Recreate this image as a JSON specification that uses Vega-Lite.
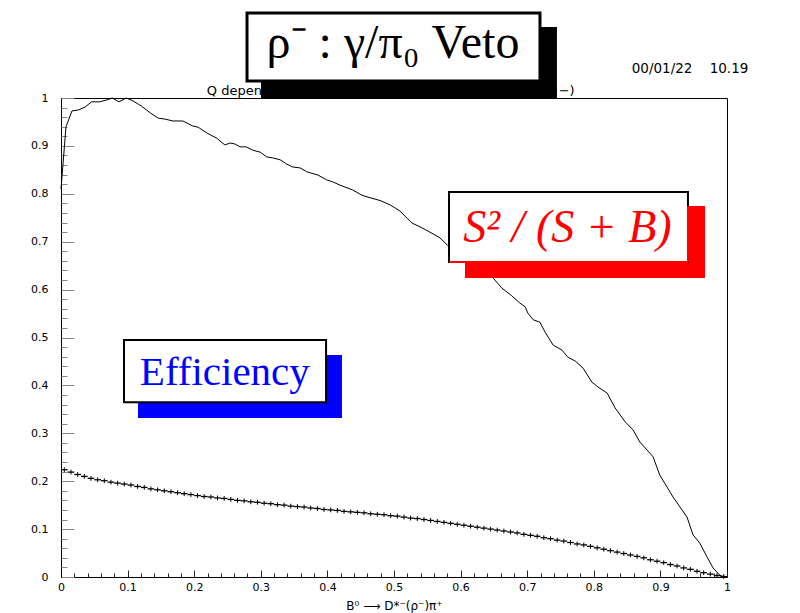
{
  "$schema": "https://vega.github.io/schema/vega-lite/v6.json",
  "width": 666,
  "height": 479,
  "autosize": "none",
  "padding": {"left": 61, "top": 98, "right": 73, "bottom": 36},
  "background": "white",
  "config": {
    "view": {"stroke": "#000", "strokeWidth": 1},
    "axis": {"grid": false, "domainColor": "#000", "labelColor": "#000", "labelFont": "DejaVu Sans", "labelFontSize": 11}
  },
  "datasets": {
    "ratio": [
      {"q": 0.0, "v": 0.81}, {"q": 0.0075, "v": 0.94}, {"q": 0.0165, "v": 0.973}, {"q": 0.026, "v": 0.975},
      {"q": 0.036, "v": 0.981}, {"q": 0.046, "v": 0.992}, {"q": 0.058, "v": 0.992}, {"q": 0.069, "v": 0.996},
      {"q": 0.077, "v": 1.0}, {"q": 0.087, "v": 0.992}, {"q": 0.098, "v": 1.0}, {"q": 0.108, "v": 0.994},
      {"q": 0.121, "v": 0.983}, {"q": 0.134, "v": 0.969}, {"q": 0.146, "v": 0.958}, {"q": 0.156, "v": 0.956},
      {"q": 0.168, "v": 0.952}, {"q": 0.183, "v": 0.952}, {"q": 0.197, "v": 0.942}, {"q": 0.206, "v": 0.939},
      {"q": 0.219, "v": 0.927}, {"q": 0.234, "v": 0.916}, {"q": 0.246, "v": 0.902}, {"q": 0.254, "v": 0.906},
      {"q": 0.261, "v": 0.904}, {"q": 0.269, "v": 0.898}, {"q": 0.278, "v": 0.898}, {"q": 0.288, "v": 0.891},
      {"q": 0.299, "v": 0.887}, {"q": 0.309, "v": 0.877}, {"q": 0.318, "v": 0.875}, {"q": 0.329, "v": 0.871},
      {"q": 0.339, "v": 0.862}, {"q": 0.348, "v": 0.856}, {"q": 0.359, "v": 0.854}, {"q": 0.369, "v": 0.846},
      {"q": 0.386, "v": 0.839}, {"q": 0.399, "v": 0.829}, {"q": 0.408, "v": 0.825}, {"q": 0.419, "v": 0.818},
      {"q": 0.438, "v": 0.808}, {"q": 0.452, "v": 0.797}, {"q": 0.461, "v": 0.793}, {"q": 0.479, "v": 0.786},
      {"q": 0.494, "v": 0.777}, {"q": 0.509, "v": 0.764}, {"q": 0.521, "v": 0.747}, {"q": 0.527, "v": 0.739},
      {"q": 0.539, "v": 0.731}, {"q": 0.554, "v": 0.72}, {"q": 0.569, "v": 0.708}, {"q": 0.58, "v": 0.693},
      {"q": 0.595, "v": 0.687}, {"q": 0.607, "v": 0.672}, {"q": 0.617, "v": 0.658}, {"q": 0.633, "v": 0.641},
      {"q": 0.649, "v": 0.624}, {"q": 0.662, "v": 0.603}, {"q": 0.676, "v": 0.588}, {"q": 0.689, "v": 0.572},
      {"q": 0.697, "v": 0.564}, {"q": 0.701, "v": 0.551}, {"q": 0.709, "v": 0.537}, {"q": 0.719, "v": 0.532},
      {"q": 0.727, "v": 0.511}, {"q": 0.739, "v": 0.484}, {"q": 0.752, "v": 0.474}, {"q": 0.761, "v": 0.459},
      {"q": 0.772, "v": 0.451}, {"q": 0.784, "v": 0.436}, {"q": 0.797, "v": 0.407}, {"q": 0.806, "v": 0.397},
      {"q": 0.82, "v": 0.384}, {"q": 0.832, "v": 0.353}, {"q": 0.847, "v": 0.324}, {"q": 0.859, "v": 0.307},
      {"q": 0.869, "v": 0.282}, {"q": 0.88, "v": 0.265}, {"q": 0.889, "v": 0.251}, {"q": 0.899, "v": 0.213},
      {"q": 0.919, "v": 0.167}, {"q": 0.94, "v": 0.125}, {"q": 0.949, "v": 0.088}, {"q": 0.959, "v": 0.071},
      {"q": 0.97, "v": 0.042}, {"q": 0.979, "v": 0.019}, {"q": 0.989, "v": 0.004}, {"q": 0.996, "v": 0.0}
    ],
    "eff": [
      {"lo": 0.00, "hi": 0.01, "e": 0.224}, {"lo": 0.01, "hi": 0.02, "e": 0.219}, {"lo": 0.02, "hi": 0.03, "e": 0.214},
      {"lo": 0.03, "hi": 0.04, "e": 0.210}, {"lo": 0.04, "hi": 0.05, "e": 0.206}, {"lo": 0.05, "hi": 0.06, "e": 0.203},
      {"lo": 0.06, "hi": 0.07, "e": 0.201}, {"lo": 0.07, "hi": 0.08, "e": 0.198}, {"lo": 0.08, "hi": 0.09, "e": 0.196},
      {"lo": 0.09, "hi": 0.10, "e": 0.194}, {"lo": 0.10, "hi": 0.11, "e": 0.192}, {"lo": 0.11, "hi": 0.12, "e": 0.189},
      {"lo": 0.12, "hi": 0.13, "e": 0.187}, {"lo": 0.13, "hi": 0.14, "e": 0.184}, {"lo": 0.14, "hi": 0.15, "e": 0.182},
      {"lo": 0.15, "hi": 0.16, "e": 0.180}, {"lo": 0.16, "hi": 0.17, "e": 0.178}, {"lo": 0.17, "hi": 0.18, "e": 0.176},
      {"lo": 0.18, "hi": 0.19, "e": 0.174}, {"lo": 0.19, "hi": 0.20, "e": 0.172}, {"lo": 0.20, "hi": 0.21, "e": 0.170},
      {"lo": 0.21, "hi": 0.22, "e": 0.168}, {"lo": 0.22, "hi": 0.23, "e": 0.167}, {"lo": 0.23, "hi": 0.24, "e": 0.165},
      {"lo": 0.24, "hi": 0.25, "e": 0.164}, {"lo": 0.25, "hi": 0.26, "e": 0.162}, {"lo": 0.26, "hi": 0.27, "e": 0.160},
      {"lo": 0.27, "hi": 0.28, "e": 0.159}, {"lo": 0.28, "hi": 0.29, "e": 0.157}, {"lo": 0.29, "hi": 0.30, "e": 0.156},
      {"lo": 0.30, "hi": 0.31, "e": 0.154}, {"lo": 0.31, "hi": 0.32, "e": 0.153}, {"lo": 0.32, "hi": 0.33, "e": 0.151},
      {"lo": 0.33, "hi": 0.34, "e": 0.150}, {"lo": 0.34, "hi": 0.35, "e": 0.148}, {"lo": 0.35, "hi": 0.36, "e": 0.147},
      {"lo": 0.36, "hi": 0.37, "e": 0.146}, {"lo": 0.37, "hi": 0.38, "e": 0.144}, {"lo": 0.38, "hi": 0.39, "e": 0.143},
      {"lo": 0.39, "hi": 0.40, "e": 0.141}, {"lo": 0.40, "hi": 0.41, "e": 0.140}, {"lo": 0.41, "hi": 0.42, "e": 0.139},
      {"lo": 0.42, "hi": 0.43, "e": 0.137}, {"lo": 0.43, "hi": 0.44, "e": 0.136}, {"lo": 0.44, "hi": 0.45, "e": 0.135},
      {"lo": 0.45, "hi": 0.46, "e": 0.134}, {"lo": 0.46, "hi": 0.47, "e": 0.132}, {"lo": 0.47, "hi": 0.48, "e": 0.131},
      {"lo": 0.48, "hi": 0.49, "e": 0.130}, {"lo": 0.49, "hi": 0.50, "e": 0.128}, {"lo": 0.50, "hi": 0.51, "e": 0.127},
      {"lo": 0.51, "hi": 0.52, "e": 0.125}, {"lo": 0.52, "hi": 0.53, "e": 0.123}, {"lo": 0.53, "hi": 0.54, "e": 0.122},
      {"lo": 0.54, "hi": 0.55, "e": 0.120}, {"lo": 0.55, "hi": 0.56, "e": 0.118}, {"lo": 0.56, "hi": 0.57, "e": 0.116},
      {"lo": 0.57, "hi": 0.58, "e": 0.114}, {"lo": 0.58, "hi": 0.59, "e": 0.112}, {"lo": 0.59, "hi": 0.60, "e": 0.110},
      {"lo": 0.60, "hi": 0.61, "e": 0.108}, {"lo": 0.61, "hi": 0.62, "e": 0.106}, {"lo": 0.62, "hi": 0.63, "e": 0.104},
      {"lo": 0.63, "hi": 0.64, "e": 0.102}, {"lo": 0.64, "hi": 0.65, "e": 0.100}, {"lo": 0.65, "hi": 0.66, "e": 0.098},
      {"lo": 0.66, "hi": 0.67, "e": 0.096}, {"lo": 0.67, "hi": 0.68, "e": 0.094}, {"lo": 0.68, "hi": 0.69, "e": 0.092},
      {"lo": 0.69, "hi": 0.70, "e": 0.089}, {"lo": 0.70, "hi": 0.71, "e": 0.087}, {"lo": 0.71, "hi": 0.72, "e": 0.085},
      {"lo": 0.72, "hi": 0.73, "e": 0.082}, {"lo": 0.73, "hi": 0.74, "e": 0.080}, {"lo": 0.74, "hi": 0.75, "e": 0.077},
      {"lo": 0.75, "hi": 0.76, "e": 0.075}, {"lo": 0.76, "hi": 0.77, "e": 0.072}, {"lo": 0.77, "hi": 0.78, "e": 0.069},
      {"lo": 0.78, "hi": 0.79, "e": 0.067}, {"lo": 0.79, "hi": 0.80, "e": 0.064}, {"lo": 0.80, "hi": 0.81, "e": 0.061},
      {"lo": 0.81, "hi": 0.82, "e": 0.058}, {"lo": 0.82, "hi": 0.83, "e": 0.055}, {"lo": 0.83, "hi": 0.84, "e": 0.052},
      {"lo": 0.84, "hi": 0.85, "e": 0.049}, {"lo": 0.85, "hi": 0.86, "e": 0.046}, {"lo": 0.86, "hi": 0.87, "e": 0.043},
      {"lo": 0.87, "hi": 0.88, "e": 0.040}, {"lo": 0.88, "hi": 0.89, "e": 0.036}, {"lo": 0.89, "hi": 0.90, "e": 0.033},
      {"lo": 0.90, "hi": 0.91, "e": 0.030}, {"lo": 0.91, "hi": 0.92, "e": 0.026}, {"lo": 0.92, "hi": 0.93, "e": 0.023},
      {"lo": 0.93, "hi": 0.94, "e": 0.019}, {"lo": 0.94, "hi": 0.95, "e": 0.016}, {"lo": 0.95, "hi": 0.96, "e": 0.012},
      {"lo": 0.96, "hi": 0.97, "e": 0.009}, {"lo": 0.97, "hi": 0.98, "e": 0.006}, {"lo": 0.98, "hi": 0.99, "e": 0.003},
      {"lo": 0.99, "hi": 1.00, "e": 0.001}
    ]
  },
  "layer": [
    {
      "data": {"name": "ratio"},
      "mark": {"type": "line", "color": "#000", "strokeWidth": 1, "interpolate": "linear"},
      "encoding": {
        "x": {"field": "q", "type": "quantitative", "scale": {"domain": [0, 1], "nice": false, "zero": false},
          "axis": {"orient": "bottom", "values": [0, 0.1, 0.2, 0.3, 0.4, 0.5, 0.6, 0.7, 0.8, 0.9, 1], "format": "~g",
            "tickSize": -7, "tickColor": "#222", "labelPadding": 11, "labelFlush": false,
            "title": "B⁰ ⟶ D*⁻(ρ⁻)π⁺", "titleFont": "DejaVu Sans", "titleFontSize": 12, "titleFontWeight": "normal", "titlePadding": 8}},
        "y": {"field": "v", "type": "quantitative", "scale": {"domain": [0, 1], "nice": false, "zero": false},
          "axis": {"orient": "left", "values": [0, 0.1, 0.2, 0.3, 0.4, 0.5, 0.6, 0.7, 0.8, 0.9, 1], "format": "~g",
            "tickSize": -13, "tickColor": "#888", "labelPadding": 26, "labelFlush": false, "title": null}}
      }
    },
    {
      "data": {"name": "eff"},
      "mark": {"type": "rule", "color": "#000", "strokeWidth": 1.3},
      "encoding": {
        "x": {"field": "lo", "type": "quantitative",
          "axis": {"orient": "bottom", "values": [0.02, 0.04, 0.06, 0.08, 0.12, 0.14, 0.16, 0.18, 0.22, 0.24, 0.26, 0.28, 0.32, 0.34, 0.36, 0.38, 0.42, 0.44, 0.46, 0.48, 0.52, 0.54, 0.56, 0.58, 0.62, 0.64, 0.66, 0.68, 0.72, 0.74, 0.76, 0.78, 0.82, 0.84, 0.86, 0.88, 0.92, 0.94, 0.96, 0.98],
            "tickSize": -4, "tickColor": "#222", "labels": false, "domain": false, "title": null}},
        "x2": {"field": "hi"},
        "y": {"field": "e", "type": "quantitative",
          "axis": {"orient": "left", "values": [0.02, 0.04, 0.06, 0.08, 0.12, 0.14, 0.16, 0.18, 0.22, 0.24, 0.26, 0.28, 0.32, 0.34, 0.36, 0.38, 0.42, 0.44, 0.46, 0.48, 0.52, 0.54, 0.56, 0.58, 0.62, 0.64, 0.66, 0.68, 0.72, 0.74, 0.76, 0.78, 0.82, 0.84, 0.86, 0.88, 0.92, 0.94, 0.96, 0.98],
            "tickSize": -6, "tickColor": "#888", "labels": false, "domain": false, "title": null}}
      }
    },
    {
      "data": {"name": "eff"},
      "transform": [
        {"calculate": "(datum.lo + datum.hi) / 2", "as": "mid"},
        {"calculate": "datum.e - 0.005", "as": "eLow"},
        {"calculate": "datum.e + 0.005", "as": "eHigh"}
      ],
      "mark": {"type": "rule", "color": "#000", "strokeWidth": 1},
      "encoding": {
        "x": {"field": "mid", "type": "quantitative", "axis": null},
        "y": {"field": "eLow", "type": "quantitative", "axis": null},
        "y2": {"field": "eHigh"}
      }
    },
    {
      "data": {"values": [{}]},
      "mark": {"type": "text", "font": "DejaVu Sans", "fontSize": 13, "align": "left", "baseline": "alphabetic", "color": "#000"},
      "encoding": {
        "x": {"datum": 0.219, "type": "quantitative", "axis": null},
        "y": {"datum": 1.006, "type": "quantitative", "axis": null},
        "text": {"value": "Q dependence on gamma/pi0 veto cut for B0 -> D*(ρ  −)"}
      }
    },
    {
      "data": {"values": [{}]},
      "mark": {"type": "text", "font": "DejaVu Sans", "fontSize": 13.5, "align": "left", "baseline": "alphabetic", "color": "#000"},
      "encoding": {
        "x": {"datum": 0.857, "type": "quantitative", "axis": null},
        "y": {"datum": 1.052, "type": "quantitative", "axis": null},
        "text": {"value": "00/01/22"}
      }
    },
    {
      "data": {"values": [{}]},
      "mark": {"type": "text", "font": "DejaVu Sans", "fontSize": 13.5, "align": "right", "baseline": "alphabetic", "color": "#000"},
      "encoding": {
        "x": {"datum": 1.032, "type": "quantitative", "axis": null},
        "y": {"datum": 1.052, "type": "quantitative", "axis": null},
        "text": {"value": "10.19"}
      }
    },
    {
      "data": {"values": [{}]},
      "mark": {"type": "rect", "color": "#000"},
      "encoding": {
        "x": {"datum": 0.3003, "type": "quantitative", "axis": null}, "x2": {"datum": 0.7447},
        "y": {"datum": 1.1482, "type": "quantitative", "axis": null}, "y2": {"datum": 1.0}
      }
    },
    {
      "data": {"values": [{}]},
      "mark": {"type": "rect", "fill": "#fff", "stroke": "#000", "strokeWidth": 3},
      "encoding": {
        "x": {"datum": 0.2793, "type": "quantitative", "axis": null}, "x2": {"datum": 0.7192},
        "y": {"datum": 1.1775, "type": "quantitative", "axis": null}, "y2": {"datum": 1.0355}
      }
    },
    {
      "data": {"values": [{}]},
      "mark": {"type": "text", "font": "Liberation Serif", "fontSize": 48, "align": "center", "baseline": "alphabetic", "color": "#000"},
      "encoding": {
        "x": {"datum": 0.4985, "type": "quantitative", "axis": null},
        "y": {"datum": 1.0835, "type": "quantitative", "axis": null},
        "text": {"value": "ρ⁻  :  γ/π₀  Veto"}
      }
    },
    {
      "data": {"values": [{}]},
      "mark": {"type": "rect", "color": "#ff0000"},
      "encoding": {
        "x": {"datum": 0.6066, "type": "quantitative", "axis": null}, "x2": {"datum": 0.967},
        "y": {"datum": 0.7745, "type": "quantitative", "axis": null}, "y2": {"datum": 0.6242}
      }
    },
    {
      "data": {"values": [{}]},
      "mark": {"type": "rect", "fill": "#fff", "stroke": "#000", "strokeWidth": 2},
      "encoding": {
        "x": {"datum": 0.5826, "type": "quantitative", "axis": null}, "x2": {"datum": 0.9414},
        "y": {"datum": 0.8038, "type": "quantitative", "axis": null}, "y2": {"datum": 0.6576}
      }
    },
    {
      "data": {"values": [{}]},
      "mark": {"type": "rule", "color": "#ff0000", "strokeWidth": 2},
      "encoding": {
        "x": {"datum": 0.5826, "type": "quantitative", "axis": null}, "x2": {"datum": 0.9414},
        "y": {"datum": 0.6576, "type": "quantitative", "axis": null}
      }
    },
    {
      "data": {"values": [{}]},
      "mark": {"type": "rule", "color": "#ff0000", "strokeWidth": 2},
      "encoding": {
        "x": {"datum": 0.9414, "type": "quantitative", "axis": null},
        "y": {"datum": 0.7745, "type": "quantitative", "axis": null}, "y2": {"datum": 0.6576}
      }
    },
    {
      "data": {"values": [{}]},
      "mark": {"type": "text", "font": "Liberation Serif", "fontSize": 46, "fontStyle": "italic", "align": "center", "baseline": "alphabetic", "color": "#ff0000"},
      "encoding": {
        "x": {"datum": 0.7605, "type": "quantitative", "axis": null},
        "y": {"datum": 0.6994, "type": "quantitative", "axis": null},
        "text": {"value": "S² / (S  +  B)"}
      }
    },
    {
      "data": {"values": [{}]},
      "mark": {"type": "rect", "color": "#0000ff"},
      "encoding": {
        "x": {"datum": 0.1156, "type": "quantitative", "axis": null}, "x2": {"datum": 0.4219},
        "y": {"datum": 0.4635, "type": "quantitative", "axis": null}, "y2": {"datum": 0.332}
      }
    },
    {
      "data": {"values": [{}]},
      "mark": {"type": "rect", "fill": "#fff", "stroke": "#000", "strokeWidth": 2},
      "encoding": {
        "x": {"datum": 0.0946, "type": "quantitative", "axis": null}, "x2": {"datum": 0.398},
        "y": {"datum": 0.495, "type": "quantitative", "axis": null}, "y2": {"datum": 0.365}
      }
    },
    {
      "data": {"values": [{}]},
      "mark": {"type": "text", "font": "Liberation Serif", "fontSize": 41, "align": "center", "baseline": "alphabetic", "color": "#0000ff"},
      "encoding": {
        "x": {"datum": 0.246, "type": "quantitative", "axis": null},
        "y": {"datum": 0.401, "type": "quantitative", "axis": null},
        "text": {"value": "Efficiency"}
      }
    }
  ],
  "resolve": {"axis": {"x": "independent", "y": "independent"}}
}
